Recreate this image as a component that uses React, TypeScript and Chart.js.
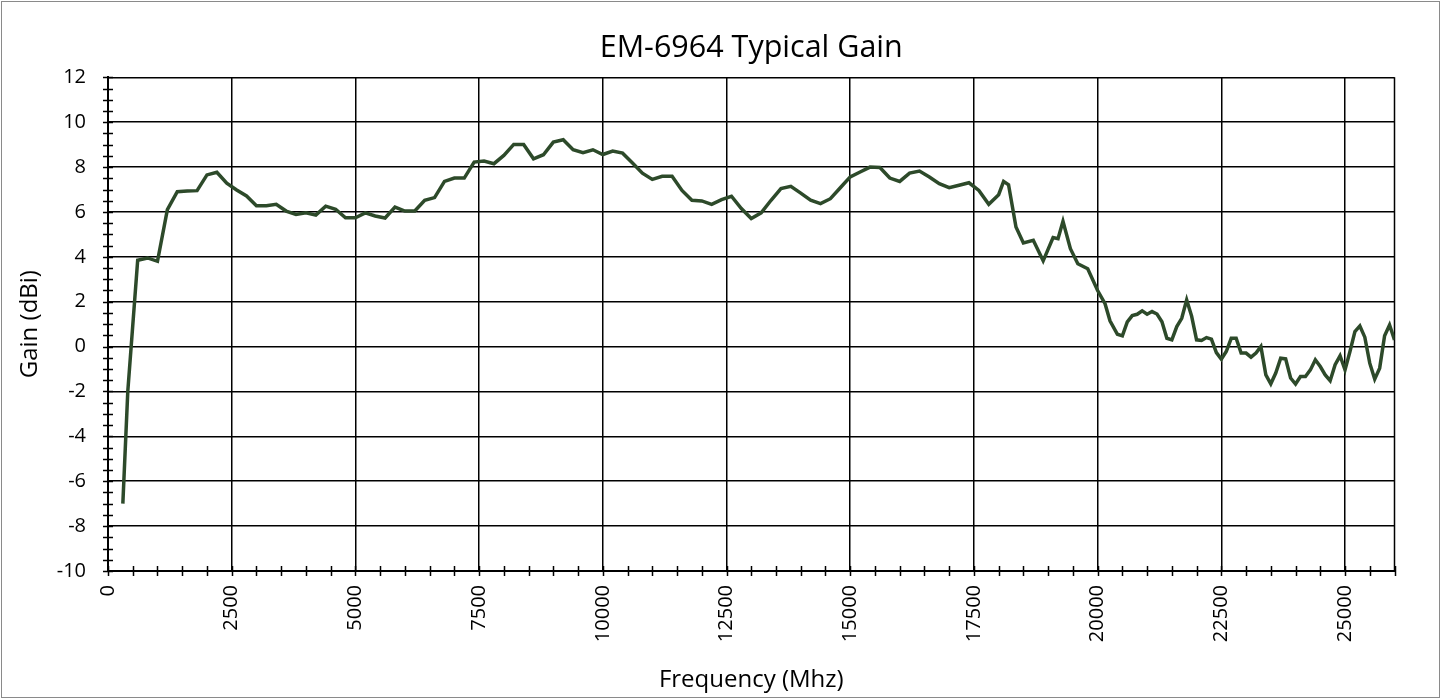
import React, { useEffect, useRef } from 'react';
import { Chart, registerables } from 'chart.js';

Chart.register(...registerables);

const TITLE = 'EM-6964 Typical Gain';
const X_TITLE = 'Frequency (Mhz)';
const Y_TITLE = 'Gain (dBi)';

const frequencies = [
  300, 400, 600, 800, 1000, 1200, 1400, 1600, 1800, 2000, 2200, 2400, 2600, 2800, 3000, 3200, 3400, 3600, 3800, 4000,
  4200, 4400, 4600, 4800, 5000, 5200, 5400, 5600, 5800, 6000, 6200, 6400, 6600, 6800, 7000, 7200, 7400, 7600, 7800, 8000,
  8200, 8400, 8600, 8800, 9000, 9200, 9400, 9600, 9800, 10000, 10200, 10400, 10600, 10800, 11000, 11200, 11400, 11600,
  11800, 12000, 12200, 12400, 12600, 12800, 13000, 13200, 13400, 13600, 13800, 14000, 14200, 14400, 14600, 14800, 15000,
  15200, 15400, 15600, 15800, 16000, 16200, 16400, 16600, 16800, 17000, 17200, 17400, 17600, 17800, 18000, 18100, 18200,
  18350, 18500, 18700, 18900, 19100, 19200, 19300, 19450, 19600, 19800, 20000, 20150, 20250, 20400, 20500, 20600, 20700,
  20800, 20900, 21000, 21100, 21200, 21300, 21400, 21500, 21600, 21700, 21800, 21900, 22000, 22100, 22200, 22300, 22400,
  22500, 22600, 22700, 22800, 22900, 23000, 23100, 23200, 23300, 23400, 23500, 23600, 23700, 23800, 23900, 24000, 24100,
  24200, 24300, 24400, 24500, 24600, 24700, 24800, 24900, 25000, 25100, 25200, 25300, 25400, 25500, 25600, 25700, 25800,
  25900, 26000,
];

const gains = [
  -7.0, -2.0, 3.85, 3.95, 3.8, 6.1, 6.9, 6.93, 6.95, 7.65, 7.77, 7.28, 6.98, 6.71, 6.28, 6.28, 6.34, 6.04, 5.89, 5.96,
  5.86, 6.26, 6.12, 5.74, 5.74, 5.96, 5.82, 5.73, 6.22, 6.04, 6.04, 6.52, 6.64, 7.36, 7.51, 7.51, 8.22, 8.27, 8.15, 8.52,
  9.01, 9.01, 8.37, 8.55, 9.11, 9.22, 8.77, 8.64, 8.77, 8.56, 8.71, 8.62, 8.18, 7.73, 7.45, 7.59, 7.59, 6.96,
  6.52, 6.49, 6.34, 6.55, 6.7, 6.15, 5.71, 5.96, 6.52, 7.04, 7.14, 6.84, 6.52, 6.37, 6.59, 7.08, 7.56,
  7.78, 8.0, 7.98, 7.51, 7.36, 7.73, 7.82, 7.56, 7.26, 7.08, 7.19, 7.3, 6.96, 6.34, 6.77, 7.36, 7.21,
  5.33, 4.62, 4.74, 3.82, 4.86, 4.81, 5.58, 4.36, 3.69, 3.47, 2.5, 1.91, 1.15, 0.55, 0.48, 1.1, 1.38,
  1.44, 1.59, 1.44, 1.56, 1.45, 1.11, 0.37, 0.3, 0.89, 1.26, 2.08, 1.36, 0.3, 0.27, 0.4, 0.33, -0.27,
  -0.56, -0.22, 0.37, 0.37, -0.29, -0.29, -0.47, -0.29, 0.0, -1.26, -1.66, -1.18, -0.52, -0.55, -1.4, -1.67, -1.33,
  -1.33, -1.04, -0.59, -0.89, -1.26, -1.52, -0.81, -0.41, -1.04, -0.22, 0.67, 0.92, 0.42, -0.74, -1.45, -0.96, 0.48,
  0.96, 0.3,
];

const xTickValues = [0, 2500, 5000, 7500, 10000, 12500, 15000, 17500, 20000, 22500, 25000];
const X_MIN = 0;
const X_MAX = 26000;
const X_MINOR = 500;
const Y_MIN = -10;
const Y_MAX = 12;
const Y_STEP = 2;
const Y_MINOR = 0.5;

const FONT = "'Open Sans', sans-serif";
const LINE_COLOR = '#2d4a2a';

const crossTicks = {
  id: 'crossTicks',
  beforeDatasetsDraw(chart: any) {
    const { ctx, chartArea, scales } = chart;
    const x = scales.x;
    const y = scales.y;
    ctx.save();
    ctx.strokeStyle = '#000';
    ctx.lineWidth = 1.5;
    ctx.beginPath();
    ctx.moveTo(chartArea.right, chartArea.top);
    ctx.lineTo(chartArea.right, chartArea.bottom);
    for (let v = Y_MIN; v <= Y_MAX + 1e-9; v += Y_MINOR) {
      const py = Math.round(y.getPixelForValue(v)) + 0.5;
      ctx.moveTo(chartArea.left - 5, py);
      ctx.lineTo(chartArea.left + 5, py);
    }
    for (let v = X_MIN; v <= X_MAX + 1e-9; v += X_MINOR) {
      const px = Math.round(x.getPixelForValue(v)) + 0.5;
      ctx.moveTo(px, chartArea.bottom - 5);
      ctx.lineTo(px, chartArea.bottom + 5);
    }
    ctx.stroke();
    ctx.restore();
  },
  afterDraw(chart: any) {
    const { ctx } = chart;
    ctx.save();
    ctx.strokeStyle = '#8a8a8a';
    ctx.lineWidth = 1;
    ctx.strokeRect(1.5, 1.5, 1438, 696);
    ctx.restore();
  },
};

export default function App() {
  const canvasRef = useRef<HTMLCanvasElement | null>(null);

  useEffect(() => {
    if (!canvasRef.current) return;
    const points = frequencies.map((f, i) => ({ x: f, y: gains[i] }));
    const chart = new Chart(canvasRef.current, {
      type: 'line',
      data: {
        datasets: [
          {
            label: 'Gain',
            data: points,
            borderColor: LINE_COLOR,
            backgroundColor: LINE_COLOR,
            borderWidth: 3.5,
            pointRadius: 0,
            tension: 0,
            fill: false,
          },
        ],
      },
      options: {
        animation: false,
        responsive: false,
        maintainAspectRatio: false,
        layout: { padding: { left: 0, right: 52.5, top: 0, bottom: 0 } },
        plugins: {
          legend: { display: false },
          tooltip: { enabled: false },
          title: {
            display: true,
            fullSize: false,
            text: TITLE,
            color: '#000',
            font: { family: FONT, size: 30.5, weight: 'normal' },
            padding: { top: 30.2, bottom: 10.5 },
          },
        },
        scales: {
          x: {
            type: 'linear',
            min: X_MIN,
            max: X_MAX,
            afterBuildTicks: (scale: any) => {
              scale.ticks = xTickValues.map((v) => ({ value: v }));
            },
            afterFit: (scale: any) => {
              scale.height = 129;
            },
            ticks: {
              autoSkip: false,
              minRotation: 90,
              maxRotation: 90,
              padding: 14,
              color: '#000',
              font: { family: FONT, size: 20 },
              callback: (v: any) => String(v),
            },
            grid: { color: '#000', lineWidth: 1.5, drawTicks: false },
            border: { color: '#000', width: 2 },
            title: {
              display: true,
              text: X_TITLE,
              color: '#000',
              font: { family: FONT, size: 24 },
              padding: { top: 0, bottom: 5.6 },
            },
          },
          y: {
            type: 'linear',
            min: Y_MIN,
            max: Y_MAX,
            afterFit: (scale: any) => {
              scale.width = 108;
            },
            ticks: {
              stepSize: Y_STEP,
              padding: 22,
              color: '#000',
              font: { family: FONT, size: 20 },
              callback: (v: any) => String(v),
            },
            grid: { color: '#000', lineWidth: 1.5, drawTicks: false },
            border: { color: '#000', width: 2 },
            title: {
              display: true,
              text: Y_TITLE,
              color: '#000',
              font: { family: FONT, size: 24 },
              padding: { top: 15.6, bottom: 0 },
            },
          },
        },
      },
      plugins: [crossTicks],
    });
    return () => chart.destroy();
  }, []);

  return (
    <div style={{ position: 'fixed', left: 0, top: 0, width: 1447, height: 700, background: '#fff' }}>
      <canvas ref={canvasRef} width={1447} height={700} style={{ display: 'block', width: 1447, height: 700 }} />
    </div>
  );
}
